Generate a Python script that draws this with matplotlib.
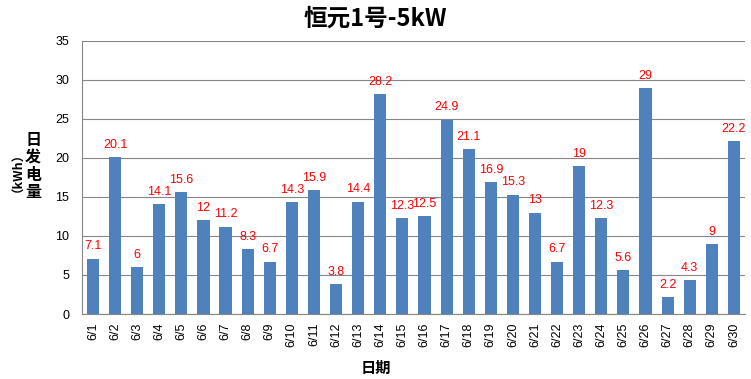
import matplotlib.pyplot as plt
import numpy as np

plt.rcParams['font.family'] = ['Noto Sans CJK SC', 'DejaVu Sans']

# daily generation, June
days = [f"6/{d}" for d in range(1, 31)]
values = [7.1, 20.1, 6, 14.1, 15.6, 12, 11.2, 8.3, 6.7, 14.3,
          15.9, 3.8, 14.4, 28.2, 12.3, 12.5, 24.9, 21.1, 16.9, 15.3,
          13, 6.7, 19, 12.3, 5.6, 29, 2.2, 4.3, 9, 22.2]
yticks = [0, 5, 10, 15, 20, 25, 30, 35]
ylabel_chars = ["日", "发", "电", "量"]

fig = plt.figure(figsize=(7.51, 3.79), dpi=100)
ax = fig.add_axes([0.109, 0.1715, 0.883, 0.7205])

x = np.arange(len(days))
ax.bar(x, values, width=0.55, color='#4F81BD', zorder=3)
for xi, v in zip(x, values):
    ax.text(xi, v + 0.8, f"{v:g}", ha='center', va='bottom', color='#FF0000',
            fontsize=9, family=['Liberation Sans', 'DejaVu Sans'])

ax.set_xlim(-0.5, len(days) - 0.5)
ax.set_ylim(0, 35)
ax.set_yticks(yticks)
ax.set_xticks(x)
ax.set_xticklabels(days, rotation=90, fontsize=9, family=['Liberation Sans', 'DejaVu Sans'])
ax.tick_params(axis='y', labelsize=9, length=0, pad=9)
ax.tick_params(axis='x', length=0, pad=6)
for lab in ax.get_yticklabels():
    lab.set_family(['Liberation Sans', 'DejaVu Sans'])
ax.grid(axis='y', color='#868686', linewidth=0.8, zorder=0)
for s in ['top', 'right']:
    ax.spines[s].set_visible(False)
ax.spines['left'].set_color('#868686')
ax.spines['bottom'].set_color('#868686')

fig.text(0.5, 0.952, "恒元1号-5kW", ha='center', va='center', fontsize=17, fontweight='bold')
fig.text(0.5, 0.03, "日期", ha='center', va='center', fontsize=11, fontweight='bold')

# stacked upright y label, one char per row
step = 17.5 / 379
top = 0.562 + 1.5 * step
for i, ch in enumerate(ylabel_chars):
    fig.text(0.044, top - i * step, ch, ha='center', va='center', fontsize=11.5,
             fontweight='bold')
fig.text(0.016, 0.562, "（kWh）", ha='center', va='center', fontsize=9,
         fontweight='bold', rotation=90)

fig.savefig("out.png", dpi=100)
